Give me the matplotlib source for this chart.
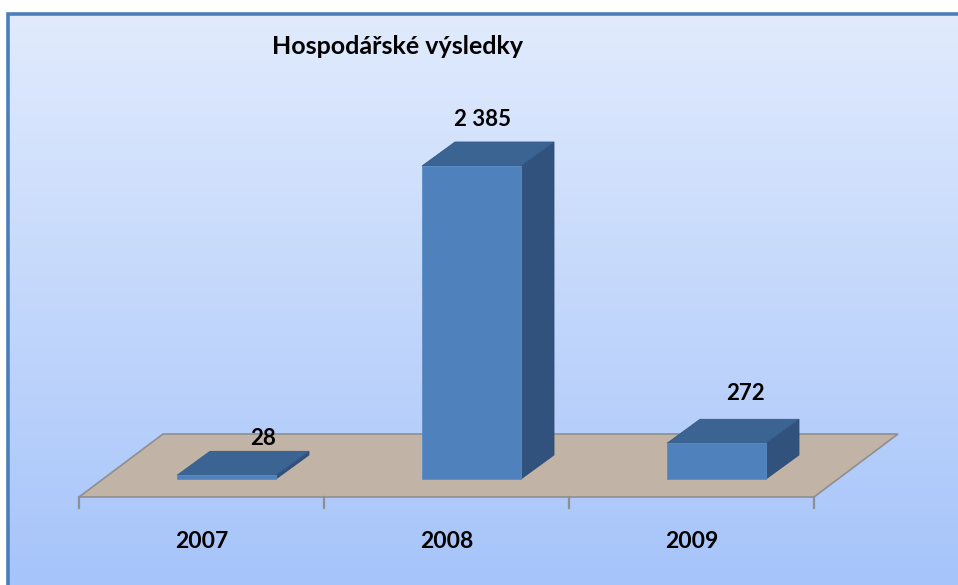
import numpy as np
import matplotlib
matplotlib.use("Agg")
import matplotlib.pyplot as plt
from matplotlib.colors import LinearSegmentedColormap
from matplotlib.patches import Polygon
from matplotlib.transforms import IdentityTransform

# Hospodářské výsledky by year
years = ["2007", "2008", "2009"]
results = [28, 2385, 272]
value_labels = ["28", "2 385", "272"]

W, H, DPI = 958, 585, 100
FONT = ["Lato", "DejaVu Sans"]

# 3D look: depth vectors in pixels
bar_depth = np.array([33, 24])
floor_front = np.array([-25, -18])
floor_back = np.array([59, 45])
bar_width = 0.404

front_col = "#4f81bd"
top_col = "#3b6492"
side_col = "#30527c"
floor_col = "#c1b3a6"

fig = plt.figure(figsize=(W / DPI, H / DPI), dpi=DPI)

# background panel with vertical gradient and blue frame
bg = fig.add_axes([0, 0, 1, 1])
bg.set_xlim(0, W)
bg.set_ylim(H, 0)
bg.axis("off")
cmap = LinearSegmentedColormap.from_list("bg", ["#e1ebfd", "#a6c4fa"])
grad = np.linspace(0, 1, 256).reshape(-1, 1)
bg.imshow(grad, cmap=cmap, extent=(8, W, H, 13), aspect="auto", zorder=0)
bg.plot([8.5, 8.5, W], [H, 13.5, 13.5], color="#4a7ebb", lw=2.6,
        solid_joinstyle="miter", solid_capstyle="butt", zorder=1)

# plotting axes: x = category index, y = value
ax = fig.add_axes([104 / W, 106 / H, 735 / W, 313 / H])
ax.set_xlim(-0.5, len(years) - 0.5)
ax.set_ylim(0, max(results))
ax.axis("off")

ident = IdentityTransform()


def px(x, y, off=(0, 0)):
    return ax.transData.transform((x, y)) + np.asarray(off)


def face(pts, color, z, ec=None, lw=0.0):
    ax.add_patch(Polygon(pts, closed=True, facecolor=color, edgecolor=ec or color,
                         lw=lw, transform=ident, clip_on=False, zorder=z))


# floor
x_lo, x_hi = -0.5, len(years) - 0.5
floor = [px(x_lo, 0, floor_front), px(x_hi, 0, floor_front),
         px(x_hi, 0, floor_back), px(x_lo, 0, floor_back)]
face(floor, floor_col, 1, ec="#8f8f8f", lw=1.2)

# category ticks along the front edge
for b in np.arange(x_lo, x_hi + 0.01, 1.0):
    p = px(b, 0, floor_front)
    ax.plot([p[0], p[0]], [p[1], p[1] - 11], color="#8f8f8f", lw=1.6,
            transform=ident, clip_on=False, zorder=1)

# bars
for i, v in enumerate(results):
    x0, x1 = i - bar_width / 2, i + bar_width / 2
    top = [px(x0, v), px(x1, v), px(x1, v, bar_depth), px(x0, v, bar_depth)]
    side = [px(x1, 0), px(x1, 0, bar_depth), px(x1, v, bar_depth), px(x1, v)]
    front = [px(x0, 0), px(x1, 0), px(x1, v), px(x0, v)]
    face(side, side_col, 3, ec="#2c4d76", lw=0.6)
    face(top, top_col, 3, ec="#35598a", lw=0.6)
    face(front, front_col, 4, ec="#5b8bc6", lw=0.6)

# value labels above the bar tops
label_nudge = [(20, -9), (-5, 1), (12, 4)]
for i, (v, lab) in enumerate(zip(results, value_labels)):
    p = px(i, v, (bar_depth[0] / 2 + label_nudge[i][0], bar_depth[1] + 22 + label_nudge[i][1]))
    ax.text(p[0], p[1], lab, transform=ident, ha="center", va="center",
            fontsize=16, fontweight="bold", family=FONT, color="black", zorder=5)

# year labels below the floor
for i, y in enumerate(years):
    p = px(i, 0, floor_front + np.array([0, -44]))
    ax.text(p[0], p[1], y, transform=ident, ha="center", va="center",
            fontsize=16.5, fontweight="bold", family=FONT, color="black", zorder=5)

fig.text(398 / W, 1 - 47 / H, "Hospodářské výsledky", ha="center", va="center",
         fontsize=18, fontweight="bold", family=FONT, color="black")

fig.savefig("out.png", dpi=DPI, facecolor="white")
